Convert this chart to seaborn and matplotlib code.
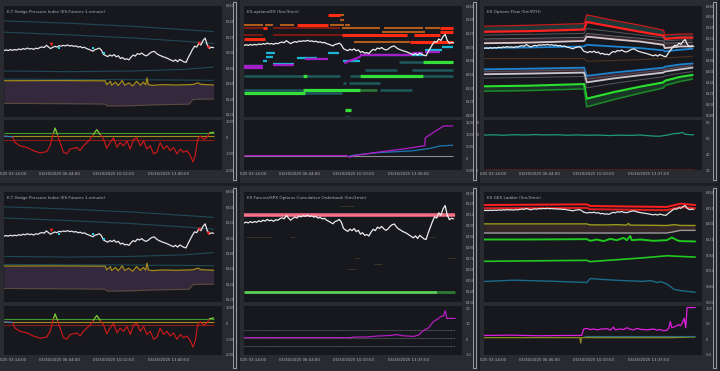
import numpy as np
import matplotlib
matplotlib.use("Agg")
import matplotlib.pyplot as plt
from matplotlib.patches import Rectangle
from matplotlib.transforms import blended_transform_factory
import seaborn as sns

FIG_W, FIG_H = 720, 371

# ---------------- data (minutes after midnight, 06/30/2025) ----------------
# ES price, sampled evenly from 03:14 to 16:34
price = [6202.5, 6203.4, 6202.6, 6203.8, 6202.9, 6203.9, 6203.2, 6204.6, 6203.7, 6205.1,
         6204.3, 6205.8, 6204.6, 6205.2, 6204.1, 6205.6, 6205.0, 6206.6, 6207.3, 6206.4,
         6209.4, 6207.2, 6205.1, 6206.8, 6208.0, 6207.1, 6208.9, 6208.2, 6209.3, 6208.6,
         6209.8, 6208.5, 6209.1, 6207.9, 6208.6, 6207.0, 6207.8, 6206.2, 6206.9, 6205.1,
         6204.2, 6203.0, 6201.8, 6203.9, 6204.6, 6205.8, 6203.2, 6197.6, 6196.1, 6194.8,
         6196.9, 6195.5, 6197.4, 6194.6, 6195.9, 6192.3, 6193.6, 6191.2, 6192.0, 6190.6,
         6194.1, 6196.8, 6195.5, 6198.7, 6197.6, 6199.4, 6197.2, 6195.8, 6197.0, 6199.5,
         6201.0, 6201.6, 6199.0, 6197.1, 6196.0, 6194.7, 6193.9, 6192.8, 6191.5, 6190.2,
         6188.9, 6190.7, 6188.3, 6191.2, 6189.6, 6188.0, 6187.4, 6193.5, 6198.6, 6203.9,
         6208.2, 6207.1, 6211.9, 6209.7, 6215.5, 6218.6, 6209.8, 6205.6, 6206.9, 6206.3]
price_t = np.linspace(194, 994, len(price))

# --- Hedge Pressure Index panel
A_teal_t = [194, 434, 688, 879, 994]
A_teal1 = [6240.8, 6237.9, 6233.8, 6229.6, 6227.1]
A_teal2 = [6226.3, 6222.9, 6218.8, 6214.6, 6211.7]
A_teal3 = [6176.3, 6175.4, 6176.3, 6178.3, 6181.3]
A_teal4 = [6165.8, 6165.4, 6165.0, 6164.6, 6164.2]
A_band_t = [194, 400, 561, 580, 586, 600, 605, 620, 630, 645, 655, 670, 685, 700,
            715, 725, 735, 740, 745, 760, 800, 850, 900, 915, 935, 945, 994]
A_gold = [6163.7, 6163.9, 6163.6, 6163.7, 6158.7, 6163.0, 6158.0, 6162.0, 6157.5, 6164.0,
          6158.0, 6161.0, 6157.0, 6163.0, 6158.0, 6162.0, 6158.5, 6167.5, 6158.7, 6157.8,
          6158.7, 6158.2, 6158.7, 6158.9, 6161.0, 6159.0, 6158.3]
A_lower = [6134.6, 6134.2, 6133.8, 6133.6, 6131.3, 6131.2, 6131.5, 6131.0, 6131.4, 6131.6,
           6131.2, 6131.7, 6131.5, 6131.8, 6132.0, 6132.1, 6132.3, 6132.4, 6132.5, 6132.7,
           6132.9, 6133.2, 6133.6, 6139.6, 6139.9, 6140.0, 6140.3]
A_red_t = [372, 937, 971]
A_red_p = [6210.8, 6212.5, 6206.7]
A_cyan_t = [405, 533, 574]
A_cyan_p = [6205.4, 6205.4, 6199.0]
A_osc_t = [194, 227, 236, 255, 281, 306, 332, 357, 370, 383, 389, 398, 408, 421, 434, 446,
           459, 472, 484, 497, 510, 523, 535, 548, 561, 574, 586, 599, 612, 625, 637, 650,
           663, 676, 688, 701, 714, 727, 739, 752, 765, 777, 790, 803, 816, 828, 841, 854,
           867, 879, 892, 905, 915, 924, 933, 943, 956, 968, 978, 994]
A_osc = [100, 60, -300, -500, -600, -800, -940, -860, -500, 300, 600, 200, -300, -900, -1000, -700,
         -660, -600, -800, -500, -300, -100, 200, 500, 200, -100, -660, -300, 0, -600, -300, -500,
         -200, -700, -100, 0, -500, -200, -700, -500, -1000, -900, -300, -700, -500, -800, -600, -1000,
         -700, -900, -800, -1100, -1500, -1100, -100, 100, -100, 0, 300, 340]
A_osc_levels = [300, 100, -120]

# --- ES options levels panel: (start, end, level)
B_red = [(516, 561, 6247.1), (395, 516, 6232.8), (268, 281, 6228.1), (943, 990, 6228.1),
         (943, 990, 6222.4), (567, 816, 6217.1), (841, 943, 6217.1), (194, 274, 6212.4),
         (828, 990, 6207.6)]
B_darkred = [(194, 268, 6228.1), (306, 561, 6228.1), (194, 268, 6217.1), (306, 395, 6217.1),
             (395, 574, 6217.1)]
B_orange = [(561, 574, 6247.1), (561, 574, 6240.0), (194, 268, 6232.8), (274, 306, 6232.8),
            (332, 383, 6232.8), (523, 574, 6232.8), (580, 599, 6232.8), (567, 714, 6228.1),
            (727, 879, 6228.1), (886, 943, 6228.1), (720, 886, 6222.4), (612, 828, 6207.6)]
B_cyan = [(886, 949, 6195.7), (949, 990, 6200.5), (278, 312, 6191.0), (516, 555, 6191.0),
          (637, 879, 6188.6), (278, 306, 6186.2), (395, 472, 6183.8), (268, 281, 6179.1),
          (571, 637, 6179.1), (306, 383, 6175.2), (194, 268, 6172.9)]
B_purple = [(886, 943, 6193.3), (835, 879, 6191.0), (637, 835, 6188.6), (427, 516, 6182.6),
            (306, 383, 6174.6), (194, 268, 6172.3), (194, 268, 6169.5)]
B_purple_slant_t = [580, 600, 620, 637]
B_purple_slant = [6177.0, 6180.5, 6183.0, 6186.0]
B_teal = [(784, 879, 6177.6), (656, 777, 6167.2), (835, 990, 6167.2), (194, 421, 6157.6),
          (434, 561, 6157.6), (599, 637, 6157.6), (879, 990, 6157.6), (571, 584, 6148.1),
          (593, 714, 6148.1), (194, 421, 6137.6), (714, 835, 6137.6), (427, 567, 6132.9),
          (580, 593, 6098.5)]
B_green = [(879, 990, 6177.6), (421, 434, 6157.6), (637, 879, 6157.6), (421, 637, 6137.6),
           (194, 427, 6132.9), (580, 603, 6108.6)]
B_green_dim = [(637, 701, 6137.6)]
B_cum_t = [194, 586, 593, 599, 612, 650, 700, 750, 800, 841, 877, 884, 886, 920, 956, 990]
B_cum_purple = [10000, 10000, 6000, 4000, 10000, 16000, 24000, 31000, 38000, 44600, 51400,
                52000, 85100, 110000, 135000, 135000]
B_cum_blue_t = [599, 650, 714, 780, 841, 900, 943, 990]
B_cum_blue = [10000, 17000, 23500, 27000, 31000, 40000, 51000, 54000]
B_cum_base = 10000

# --- ES options flow panel
C_t = [194, 370, 576, 586, 688, 790, 879, 884, 943, 990]
C_red_top = [6243.0, 6244.8, 6247.8, 6263.9, 6253.7, 6244.8, 6235.8, 6226.9, 6228.7, 6228.7]
C_red = [6232.8, 6234.0, 6237.0, 6250.8, 6241.8, 6232.8, 6225.7, 6219.7, 6222.1, 6222.1]
C_gray1 = [6226.9, 6228.1, 6229.9, 6238.8, 6232.8, 6226.9, 6222.1, 6216.1, 6217.9, 6217.9]
C_gray2 = [6219.7, 6220.9, 6222.7, 6229.9, 6225.1, 6220.9, 6216.1, 6211.9, 6213.1, 6213.7]
C_white = [6211.9, 6213.1, 6216.1, 6223.9, 6219.1, 6214.9, 6209.0, 6203.0, 6206.0, 6206.0]
C_blue = [6203.0, 6204.2, 6206.0, 6209.0, 6206.0, 6203.0, 6198.8, 6197.0, 6200.0, 6201.8]
C_brown = [6183.9, 6183.9, 6183.9, 6179.1, 6180.3, 6182.1, 6183.9, 6185.1, 6186.3, 6188.1]
C_blue_low = [6164.2, 6165.4, 6167.2, 6152.2, 6158.2, 6163.0, 6167.2, 6169.0, 6173.1, 6174.9]
C_gray_low1 = [6160.0, 6161.2, 6163.0, 6146.3, 6152.2, 6158.2, 6162.4, 6164.2, 6168.4, 6170.2]
C_white_low = [6155.2, 6156.4, 6158.2, 6140.3, 6147.5, 6153.4, 6158.2, 6160.0, 6164.2, 6167.2]
C_gray_low2 = [6148.1, 6149.3, 6151.1, 6130.2, 6138.5, 6145.1, 6150.5, 6152.2, 6157.0, 6160.0]
C_green = [6133.1, 6134.3, 6137.3, 6110.5, 6122.4, 6132.5, 6140.3, 6143.3, 6150.5, 6154.0]
C_green_dark = [6124.2, 6125.4, 6128.4, 6095.5, 6108.7, 6120.6, 6130.2, 6134.3, 6142.1, 6146.3]
C_flow_t = [194, 230, 270, 310, 350, 390, 430, 470, 510, 550, 590, 630, 670, 710, 750, 790,
            830, 860, 880, 900, 920, 940, 950, 960, 975, 994]
C_flow = [64.0, 64.3, 63.8, 64.5, 64.1, 64.6, 64.2, 64.4, 63.9, 64.2, 63.8, 64.0, 63.4, 63.9,
          63.6, 64.1, 63.0, 62.5, 63.2, 64.5, 65.8, 66.3, 67.5, 65.2, 64.6, 64.3]
C_flow_floor = 21.5

# --- cumulative orderbook panel
E_pink = 6209.6
E_green = 6138.8
E_faint = [(200, 300, 6190.0), (370, 390, 6190.0), (561, 612, 6218.0), (612, 637, 6170.0),
           (586, 620, 6160.0), (970, 1000, 6170.0), (905, 924, 6189.5), (690, 720, 6165.0)]
E_cum_t = [194, 599, 620, 663, 700, 752, 777, 800, 841, 860, 877, 899, 917, 937, 943, 955,
           962, 968, 1000]
E_cum = [1.2, 1.2, 1.6, 1.6, 2.2, 2.6, 3.2, 2.4, 2.0, 2.8, 5.6, 7.6, 11.6, 13.6, 14.6, 15.2,
         18.6, 13.6, 13.6]
E_dash_levels = [6.2, 1.2, -4.0]

# --- GEX ladder panel
F_t = [194, 586, 599, 790, 892, 943, 1000]
F_red1 = [6220.4, 6222.5, 6217.3, 6215.2, 6214.2, 6224.6, 6220.4]
F_red2 = [6210.0, 6211.1, 6206.9, 6204.8, 6203.8, 6214.2, 6210.0]
F_green2 = [6040.2, 6043.3, 6039.2, 6050.6, 6057.9, 6055.9, 6053.8]
F_band_t = [194, 586, 599, 650, 700, 739, 745, 752, 790, 892, 920, 943, 1000]
F_olive = [6160.0, 6160.0, 6157.0, 6156.5, 6157.5, 6156.0, 6161.5, 6156.0, 6155.8, 6154.8,
           6157.5, 6155.0, 6154.8]
F_gray = [6130.8, 6130.8, 6130.8, 6130.6, 6130.8, 6130.7, 6130.7, 6130.7, 6130.8, 6130.8,
          6135.0, 6139.2, 6139.2]
F_green_t = [194, 370, 586, 599, 625, 650, 676, 701, 727, 739, 752, 758, 790, 841, 892, 911,
             930, 943, 1000]
F_green = [6110.0, 6110.0, 6111.1, 6105.8, 6110.0, 6104.8, 6112.1, 6107.9, 6115.2, 6107.9,
           6121.5, 6107.9, 6110.0, 6105.8, 6107.9, 6116.3, 6107.9, 6104.8, 6103.8]
F_teal_t = [194, 306, 450, 586, 599, 650, 700, 752, 800, 830, 854, 870, 892, 920, 943, 1000]
F_teal = [5975.6, 5979.8, 5976.5, 5972.5, 5985.0, 5982.0, 5979.5, 5977.7, 5976.0, 5978.5,
          5972.5, 5975.0, 5967.3, 5950.0, 5946.5, 5941.3]
F_gex_t = [194, 300, 400, 500, 567, 574, 586, 599, 612, 625, 637, 663, 676, 688, 695, 714,
           727, 739, 752, 765, 777, 790, 816, 841, 854, 867, 879, 892, 899, 905, 911, 924,
           937, 943, 949, 958, 964, 969, 1000]
F_gex = [13, 14, 12, 13, 13, 33, 36, 32, 34, 31, 33, 35, 30, 40, 31, 34, 32, 38, 33, 31, 36,
         33, 31, 34, 30, 32, 28, 30, 36, 58, 38, 42, 48, 44, 50, 68, 38, 103, 103]
F_sub_olive_t = [194, 560, 563, 566, 915, 1000]
F_sub_olive = [6, 6, -12, 6, 6, 8]
F_sub_blue = 12

titles = ["E-T Hedge Pressure Index (ES Futures 1-minute)", "ES-options/ES (5m/3min)",
          "ES Options Flow (5m/RTH)", "E-T Hedge Pressure Index (ES Futures 1-minute)",
          "ES Futures/SPX Options Cumulative Orderbook (5m/2min)", "ES GEX Ladder (5m/2min)"]
date_ticks = [404, 612, 820]
first_label = "025 03:14:00"   # the first stamp is shown cut at the panel edge
date_labels = [
    ["06:44:00", "10:12:00", "13:40:00"],
    ["06:44:00", "10:10:00", "13:36:00"],
    ["06:44:00", "10:10:00", "13:37:00"],
    ["06:44:00", "10:12:00", "13:40:00"],
    ["06:43:00", "10:10:00", "13:37:00"],
    ["06:45:00", "10:10:00", "13:37:00"],
]

# ---------------- style ----------------
sns.set_theme(style="dark")
plt.rcParams["font.family"] = ["DejaVu Sans"]
AX_BG = "#17181e"
PANEL_BG = "#2a2b31"
TXT = "#a4a4aa"
XLIM = (194, 1026)

fig = plt.figure(figsize=(7.2, 3.71), dpi=100, facecolor="#1d1e23")


def px_axes(x, y, w, h, color):
    ax = fig.add_axes([x / FIG_W, 1 - (y + h) / FIG_H, w / FIG_W, h / FIG_H])
    ax.set_facecolor(color)
    for s in ax.spines.values():
        s.set_visible(False)
    ax.set_xticks([])
    ax.set_yticks([])
    ax.grid(False)
    return ax


def style(ax, ylim, yticks):
    ax.set_xlim(*XLIM)
    ax.set_ylim(*ylim)
    ax.yaxis.tick_right()
    ax.set_yticks(yticks)
    ax.set_yticklabels([f"{v:g}" for v in yticks])
    ax.tick_params(axis="y", length=0, labelsize=2.6, labelcolor=TXT, pad=2.5)
    ax.set_xlabel("")
    ax.set_ylabel("")


def line(ax, x, y, color, lw=0.8, **kw):
    sns.lineplot(x=x, y=y, ax=ax, color=color, linewidth=lw, estimator=None, sort=False, **kw)


def segs(ax, items, color, lw):
    if items:
        t0, t1, lev = zip(*items)
        ax.hlines(lev, t0, t1, colors=color, linewidth=lw)


def draw_hedge(am, asub):
    for vals in (A_teal1, A_teal2, A_teal3, A_teal4):
        line(am, A_teal_t, vals, "#1f4a55", 0.8)
    am.fill_between(A_band_t, A_lower, A_gold, color="#34283d", linewidth=0)
    line(am, A_band_t, A_lower, "#5a4a3e", 0.8)
    line(am, A_band_t, A_gold, "#a48a1c", 0.9)
    line(am, price_t, price, "#e4e4e6", 0.9)
    am.scatter(A_red_t, A_red_p, marker="v", s=7, color="#ff2222", linewidths=0, zorder=5)
    am.scatter(A_cyan_t, A_cyan_p, marker="s", s=3, color="#22d4f4", linewidths=0, zorder=5)
    style(am, (6117, 6260), [6260, 6240, 6220, 6200, 6180, 6160, 6140, 6120])

    for lev, c in zip(A_osc_levels, ["#3c9c2c", "#a48a1c", "#8c1c1c"]):
        asub.hlines(lev, 194, 994, colors=c, linewidth=0.8)
    osc = np.array(A_osc, dtype=float)
    line(asub, A_osc_t, osc, "#d41818", 0.8)
    green = np.where(osc >= 150, osc, np.nan)
    asub.plot(A_osc_t, green, color="#5ae03a", linewidth=0.8)
    asub.plot(A_osc_t[:2], A_osc[:2], color="#2a86c0", linewidth=0.8)
    style(asub, (-2000, 1100), [1000, 0, -1000, -2000])


rows = [dict(py=0, main=(6, 111), sub=(120, 50), date=174),
        dict(py=186, main=(192, 110), sub=(306, 49), date=360)]

for k in range(6):
    r, c = divmod(k, 3)
    px = 240 * c
    R = rows[r]
    ph = 183 if r == 0 else 185
    bg = px_axes(px, R["py"], 238, ph, PANEL_BG)
    am = px_axes(px + 4, R["main"][0], 218, R["main"][1], AX_BG)
    asub = px_axes(px + 4, R["sub"][0], 218, R["sub"][1], AX_BG)
    am.text(0.012, 0.965, titles[k], transform=am.transAxes, fontsize=3.0, color="#b0b0b6",
            ha="left", va="top")

    if k in (0, 3):
        draw_hedge(am, asub)
    elif k == 1:
        segs(am, B_darkred, "#7c1a12", 1.4)
        segs(am, B_orange, "#b05a1c", 1.5)
        segs(am, B_red, "#ff2a12", 2.2)
        segs(am, B_teal, "#1e5a5c", 1.8)
        segs(am, B_green_dim, "#2c7a36", 1.8)
        segs(am, B_green, "#36e03c", 2.3)
        segs(am, B_cyan, "#1ab6d6", 1.6)
        segs(am, B_purple, "#a41ec8", 1.6)
        line(am, B_purple_slant_t, B_purple_slant, "#a41ec8", 1.6)
        line(am, price_t, price, "#ececee", 0.9)
        style(am, (6098, 6259), [6260, 6240, 6220, 6200, 6180, 6160, 6140, 6120, 6100])

        asub.hlines(B_cum_base, 194, 990, colors="#8a8a90", linewidth=0.8)
        line(asub, B_cum_blue_t, B_cum_blue, "#1c7ab4", 0.9)
        line(asub, B_cum_t, B_cum_purple, "#b01ec8", 0.9)
        style(asub, (-45000, 160000), [150000, 100000, 50000, 0, -50000])
    elif k == 2:
        am.fill_between(C_t, C_red, C_red_top, color="#1e3838", linewidth=0)
        am.fill_between(C_t, C_white, C_gray2, color="#34282e", linewidth=0)
        am.fill_between(C_t, C_white_low, C_blue_low, color="#3a2430", linewidth=0)
        am.fill_between(C_t, C_green_dark, C_green, color="#1a3626", linewidth=0)
        line(am, C_t, C_red_top, "#c81c1c", 0.9)
        line(am, C_t, C_red, "#ff2020", 1.6)
        line(am, C_t, C_gray1, "#55555c", 0.7)
        line(am, C_t, C_gray2, "#6a6a70", 0.7)
        line(am, C_t, C_white, "#d8c8cc", 1.3)
        line(am, C_t, C_blue, "#1c84d0", 1.3)
        line(am, C_t, C_brown, "#4a3420", 0.8)
        line(am, C_t, C_blue_low, "#1c84d0", 1.3)
        line(am, C_t, C_gray_low1, "#55555c", 0.7)
        line(am, C_t, C_white_low, "#c8c8cc", 1.3)
        line(am, C_t, C_gray_low2, "#55555c", 0.7)
        line(am, C_t, C_green, "#2ce030", 1.5)
        line(am, C_t, C_green_dark, "#1c8a28", 1.1)
        line(am, price_t, price, "#ececee", 0.9)
        style(am, (6077, 6279), [6280, 6260, 6240, 6220, 6200, 6180, 6160, 6140, 6120, 6100, 6080])

        asub.hlines(C_flow_floor, 194, 994, colors="#5a1c1c", linewidth=0.6)
        line(asub, C_flow_t, C_flow, "#1e9a7a", 0.9)
        style(asub, (20, 83), [80, 60, 40, 20])
    elif k == 4:
        segs(am, E_faint, "#3a3c22", 0.6)
        am.hlines(E_pink, 194, 1000, colors="#f0688c", linewidth=2.6)
        am.hlines(E_pink, 194, 1000, colors="#ff9a60", linewidth=0.5, alpha=0.6)
        am.hlines(E_green, 194, 930, colors="#5ad05a", linewidth=2.0)
        am.hlines(E_green, 930, 1000, colors="#2e7a34", linewidth=2.0)
        line(am, price_t, price, "#ececee", 0.9)
        style(am, (6130, 6231), [6230, 6220, 6210, 6200, 6190, 6180, 6170, 6160, 6150, 6140, 6130])

        for lev in E_dash_levels:
            asub.hlines(lev, 194, 1000, colors="#6a6a70", linewidth=0.5, linestyles=(0, (3, 1)))
        line(asub, E_cum_t, E_cum, "#b41ec0", 0.9)
        style(asub, (-8.4, 21.6), [20, 10, 0, -10])
    else:
        am.fill_between(F_band_t, F_gray, F_olive, color="#352628", linewidth=0)
        line(am, F_t, F_red1, "#ff1e1e", 1.4)
        line(am, F_t, F_red2, "#e01c1c", 1.4)
        line(am, price_t, price, "#e4e4e6", 0.9)
        line(am, F_band_t, F_olive, "#9a9a1e", 1.0)
        line(am, F_band_t, F_gray, "#9a9a9e", 1.0)
        line(am, F_green_t, F_green, "#20c820", 1.4)
        line(am, F_t, F_green2, "#20c820", 1.2)
        line(am, F_teal_t, F_teal, "#1a6a8a", 1.0)
        style(am, (5910, 6262), [6260, 6210, 6160, 6110, 6060, 6010, 5960, 5910])

        line(asub, F_sub_olive_t, F_sub_olive, "#8a8a1c", 0.9)
        asub.hlines(F_sub_blue, 574, 1000, colors="#2a6a8a", linewidth=0.8)
        line(asub, F_gex_t, F_gex, "#e01ee0", 0.9)
        style(asub, (-42, 108), [100, 50, 0, -50])

    # date labels under the lower axes
    ydate = 1 - R["date"] / FIG_H
    fig.text((px + 0.5) / FIG_W, ydate, first_label, ha="left", va="center",
             fontsize=2.8, color="#b4b4ba")
    tr = blended_transform_factory(asub.transData, fig.transFigure)
    for t, lab in zip(date_ticks, date_labels[k]):
        fig.text(t, ydate, "06/30/2025 " + lab, transform=tr,
                 ha="center", va="center", fontsize=2.8, color="#b4b4ba")

    # scrollbar at right of each panel
    fig.patches.append(Rectangle(((px + 233) / FIG_W, 1 - (R["py"] + ph - 3) / FIG_H),
                                 3 / FIG_W, (ph - 5) / FIG_H, transform=fig.transFigure,
                                 facecolor="#2a2b31", edgecolor="#c8c8cc", linewidth=0.5))

fig.savefig("out.png", dpi=100, facecolor=fig.get_facecolor())
